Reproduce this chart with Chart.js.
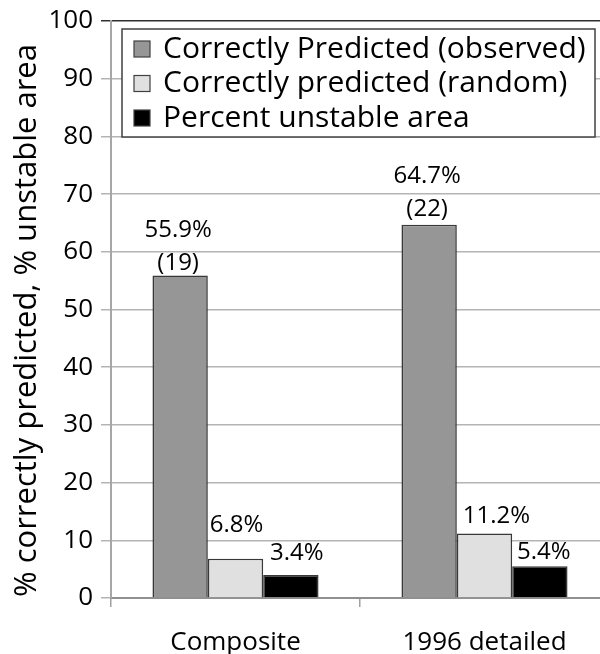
<!DOCTYPE html>
<html>
<head>
<meta charset="utf-8">
<script src="https://cdn.jsdelivr.net/npm/chart.js@4.4.1/dist/chart.umd.min.js"></script>
<style>
  html, body { margin: 0; padding: 0; background: #fff; overflow: hidden; }
  #wrap { position: relative; width: 620px; height: 654px; }
</style>
</head>
<body>
<div id="wrap"><canvas id="c"></canvas></div>
<script>
// ---- data ----
const categories = ["Composite", "1996 detailed"];
const seriesNames = ["Correctly Predicted (observed)", "Correctly predicted (random)", "Percent unstable area"];
const observed = [55.9, 64.7];
const randomPred = [6.8, 11.2];
const unstable = [4.0, 5.5];
const observedPctLabels = ["55.9%", "64.7%"];
const observedCounts = ["(19)", "(22)"];
const randomPctLabels = ["6.8%", "11.2%"];
const unstablePctLabels = ["3.4%", "5.4%"];
const yTicks = [0, 10, 20, 30, 40, 50, 60, 70, 80, 90, 100];
const yTitle = "% correctly predicted, % unstable area";

// ---- styling (label placement offsets relative to each bar top) ----
const FONT = "'Open Sans', sans-serif";
const labelStyle = [
  [[-2, -45, -12], [-2, -49, -16]],   // observed: dx, first line dy, second line dy
  [[1, -34], [12, -17]],             // random
  [[6, -22], [4, -14]]               // unstable
];

const barLabelsPlugin = {
  id: 'barLabels',
  afterDatasetsDraw(chart) {
    const ctx = chart.ctx;
    ctx.save();
    ctx.fillStyle = '#000';
    ctx.font = "24px " + FONT;
    ctx.textAlign = 'center';
    ctx.textBaseline = 'middle';
    const texts = [
      categories.map((_, i) => [observedPctLabels[i], observedCounts[i]]),
      categories.map((_, i) => [randomPctLabels[i]]),
      categories.map((_, i) => [unstablePctLabels[i]])
    ];
    chart.data.datasets.forEach((ds, di) => {
      const meta = chart.getDatasetMeta(di);
      meta.data.forEach((el, i) => {
        const st = labelStyle[di][i];
        const lines = texts[di][i];
        lines.forEach((t, li) => {
          ctx.fillText(t, el.x + st[0], el.y + st[1 + li]);
        });
      });
    });
    ctx.restore();
  }
};

const legendBoxPlugin = {
  id: 'legendBox',
  afterDraw(chart) {
    const ctx = chart.ctx;
    const a = chart.chartArea;
    const x0 = a.left + 11, y0 = a.top + 8, w = 473, h = 108;
    ctx.save();
    ctx.fillStyle = '#fff';
    ctx.fillRect(x0, y0, w, h);
    ctx.strokeStyle = '#404040';
    ctx.lineWidth = 1.5;
    ctx.strokeRect(x0, y0, w, h);
    ctx.font = "30px " + FONT;
    ctx.textBaseline = 'middle';
    ctx.textAlign = 'left';
    chart.data.datasets.forEach((ds, i) => {
      const cy = y0 + 20 + i * 34.5;
      ctx.fillStyle = ds.backgroundColor;
      ctx.fillRect(x0 + 12, cy - 8, 16, 16);
      ctx.strokeStyle = '#404040';
      ctx.lineWidth = 1.2;
      ctx.strokeRect(x0 + 12, cy - 8, 16, 16);
      ctx.fillStyle = '#000';
      ctx.fillText(ds.label, x0 + 41, cy);
    });
    ctx.restore();
  }
};

const yTitlePlugin = {
  id: 'yTitle',
  afterDraw(chart) {
    const ctx = chart.ctx;
    const a = chart.chartArea;
    ctx.save();
    ctx.translate(27, (a.top + a.bottom) / 2 + 11);
    ctx.rotate(-Math.PI / 2);
    ctx.font = "31px " + FONT;
    ctx.fillStyle = '#000';
    ctx.textAlign = 'center';
    ctx.textBaseline = 'middle';
    ctx.fillText(yTitle, 0, 0);
    ctx.restore();
  }
};

new Chart(document.getElementById('c'), {
  type: 'bar',
  data: {
    labels: categories,
    datasets: [
      { label: seriesNames[0], data: observed, backgroundColor: '#969696', borderColor: '#383838', borderWidth: 1.6 },
      { label: seriesNames[1], data: randomPred, backgroundColor: '#e0e0e0', borderColor: '#383838', borderWidth: 1.6 },
      { label: seriesNames[2], data: unstable, backgroundColor: '#000000', borderColor: '#383838', borderWidth: 1.6 }
    ]
  },
  options: {
    responsive: true,
    maintainAspectRatio: false,
    animation: false,
    devicePixelRatio: 1,
    categoryPercentage: 0.667,
    barPercentage: 1.0,
    layout: { padding: { top: 0, right: 11, bottom: 0, left: 0 } },
    plugins: {
      legend: { display: false },
      tooltip: { enabled: false }
    },
    scales: {
      x: {
        grid: {
          drawOnChartArea: false, drawTicks: true, tickLength: 9,
          color: '#a0a0a0', lineWidth: 1.5, offset: true
        },
        border: { color: '#909090', width: 2 },
        ticks: { color: '#000', font: { family: FONT, size: 26 }, padding: 20 },
        afterFit(scale) { scale.height = 56; }
      },
      y: {
        min: 0, max: 100,
        afterBuildTicks(scale) { scale.ticks = yTicks.map(v => ({ value: v })); },
        grid: {
          color: ctx => (ctx.tick && ctx.tick.value === 100) ? '#303030' : '#b4b4b4',
          lineWidth: 1.5, tickLength: 10
        },
        border: { color: '#a6a6a6', width: 2 },
        ticks: { color: '#000', font: { family: FONT, size: 26, lineHeight: 1.0 }, padding: 8 },
        afterFit(scale) { scale.width = 111; }
      }
    }
  },
  plugins: [barLabelsPlugin, legendBoxPlugin, yTitlePlugin]
});
</script>
</body>
</html>
